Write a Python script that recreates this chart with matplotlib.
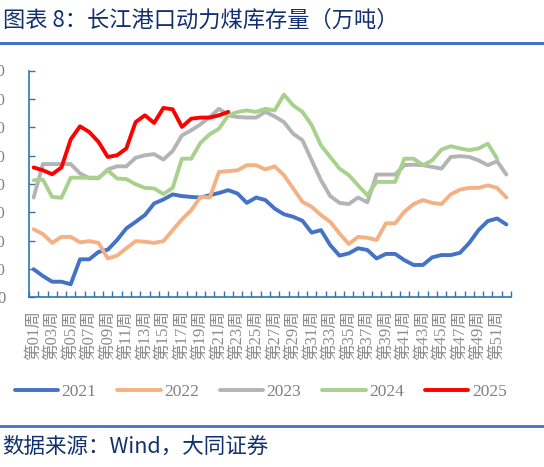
import matplotlib
matplotlib.use('Agg')
import matplotlib.pyplot as plt
import numpy as np

plt.rcParams['font.family'] = ['Liberation Serif', 'Noto Sans CJK SC']

# 长江港口动力煤库存（万吨），按周
weeks = list(range(1, 53))
y2021 = [99, 75, 55, 55, 46, 134, 134, 160, 168, 202, 243, 266, 290, 331, 345, 363, 357, 354,
         352, 360, 368, 378, 366, 333, 352, 343, 313, 293, 284, 270, 228, 237, 184, 147, 155,
         173, 167, 137, 153, 153, 131, 114, 114, 141, 149, 149, 157, 192, 237, 269, 278, 257]
y2022 = [240, 223, 192, 213, 213, 194, 198, 192, 137, 147, 173, 198, 196, 192, 198, 237, 275,
         307, 354, 352, 442, 445, 448, 466, 466, 451, 462, 431, 384, 337, 319, 290, 266, 225,
         188, 213, 210, 202, 261, 261, 302, 329, 343, 333, 329, 363, 380, 386, 386, 395, 386, 352]
y2023 = [352, 470, 470, 470, 470, 437, 420, 420, 451, 462, 462, 492, 501, 505, 486, 516, 571,
         589, 610, 636, 665, 642, 636, 634, 634, 654, 638, 618, 577, 554, 483, 413, 357, 333,
         329, 352, 335, 433, 433, 433, 466, 468, 466, 460, 454, 495, 498, 495, 483, 466, 480, 433]
y2024 = [413, 415, 354, 351, 422, 422, 422, 422, 448, 419, 417, 399, 386, 384, 364, 386, 489,
         489, 545, 575, 595, 642, 654, 659, 654, 665, 659, 715, 677, 654, 607, 536, 495, 454,
         431, 395, 360, 407, 407, 407, 489, 489, 466, 483, 521, 533, 525, 519, 525, 542, 489]
y2025 = [458, 448, 434, 458, 557, 603, 583, 548, 495, 501, 525, 618, 642, 615, 668, 663, 601,
         630, 634, 634, 642, 654]

series = [('2021', y2021, '#4472C4'),
          ('2022', y2022, '#F4B183'),
          ('2023', y2023, '#B4B4B4'),
          ('2024', y2024, '#A9D18E'),
          ('2025', y2025, '#FF0000')]

fig = plt.figure(figsize=(5.44, 4.67), dpi=100)
ax = fig.add_axes([29 / 544, 1 - 297.3 / 467, 482 / 544, (297.3 - 70.5) / 467])

for name, vals, col in series:
    ax.plot(weeks[:len(vals)], vals, color=col, lw=2.8, label=name, solid_capstyle='round')

ax.set_xlim(0.5, 52.5)
ax.set_ylim(0, 800)
ax.set_yticks(range(0, 801, 100))

ax.set_xticks(weeks[::2])
ax.set_xticklabels(['第%02d周' % w for w in weeks[::2]], rotation=90, color='#8C8C8C',
                   fontsize=12)
ax.set_xticks(np.arange(0.5, 53, 1), minor=True)
ax.tick_params(axis='x', which='major', length=0, pad=9.5)
ax.tick_params(axis='x', which='minor', direction='in', length=4, color='#2F75B5', width=1)
ax.tick_params(axis='y', direction='in', length=4, color='#2F75B5', width=1,
               labelcolor='#808080', labelsize=12, pad=17)

for s in ['top', 'right']:
    ax.spines[s].set_visible(False)
for s in ['left', 'bottom']:
    ax.spines[s].set_color('#2F75B5')
    ax.spines[s].set_linewidth(1.2)

fig.legend(loc='center left', bbox_to_anchor=(0.027, 1 - 392 / 467), ncol=5, frameon=False,
           fontsize=12.5, handlelength=2.5, handletextpad=0.2, columnspacing=1.2,
           borderpad=0, borderaxespad=0, labelcolor='#808080')

fig.text(0.005, 1 - 20 / 467, '图表 8：长江港口动力煤库存量（万吨）', fontsize=16,
         color='#12306E', va='center', ha='left', family=['Noto Sans CJK SC', 'DejaVu Sans'])
fig.add_artist(plt.Line2D([0, 1], [1 - 42.5 / 467] * 2, transform=fig.transFigure,
                          color='#4472C4', lw=2.2))
fig.add_artist(plt.Line2D([0, 1], [1 - 425.5 / 467] * 2, transform=fig.transFigure,
                          color='#4472C4', lw=2.0))
fig.text(0.003, 1 - 447 / 467, '数据来源：Wind，大同证券', fontsize=15.5,
         color='#12306E', va='center', ha='left', family=['Noto Sans CJK SC', 'DejaVu Sans'])

fig.savefig('out.png', dpi=100)
